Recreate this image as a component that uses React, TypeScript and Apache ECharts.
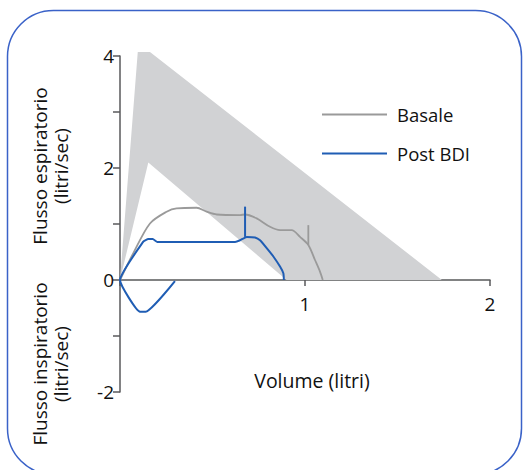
import React, { useEffect, useRef } from "react";
import * as echarts from "echarts";

const FONT = "'Open Sans', 'Noto Sans', sans-serif";

const xTicks = [0, 1, 2];
const yTickLabels = ["-2", "0", "2", "4"];

// Normal range (gray band), [volume, flow]
const normalBand: [number, number][] = [
  [0, 0],
  [0.096, 4.07],
  [0.162, 4.07],
  [1.74, 0],
  [0.9, 0],
  [0.153, 2.1],
  [0, 0],
];

const basale: [number, number][] = [
  [0, 0],
  [0.072, 0.48],
  [0.162, 1.01],
  [0.252, 1.22],
  [0.306, 1.28],
  [0.414, 1.29],
  [0.468, 1.22],
  [0.523, 1.17],
  [0.649, 1.16],
  [0.676, 1.17],
  [0.739, 1.1],
  [0.811, 0.95],
  [0.865, 0.89],
  [0.928, 0.89],
  [0.973, 0.77],
  [1.018, 0.625],
  [1.054, 0.357],
  [1.081, 0.15],
  [1.096, 0],
];
const basaleMark: [number, number][] = [
  [1.018, 0.98],
  [1.018, 0.625],
];

const postBdi: [number, number][] = [
  [0.297, -0.02],
  [0.139, -0.565],
  [0.108, -0.565],
  [0, 0],
  [0.126, 0.685],
  [0.153, 0.73],
  [0.177, 0.73],
  [0.202, 0.68],
  [0.622, 0.68],
  [0.649, 0.71],
  [0.685, 0.77],
  [0.73, 0.76],
  [0.757, 0.71],
  [0.793, 0.57],
  [0.829, 0.42],
  [0.865, 0.24],
  [0.883, 0.12],
  [0.886, 0],
];
const postBdiMark: [number, number][] = [
  [0.676, 1.31],
  [0.676, 0.77],
];

const GRAY = "#9a9a9a";
const BLUE = "#1f5db4";
const AXIS = "#58595b";

export default function App() {
  const ref = useRef<HTMLDivElement>(null);
  useEffect(() => {
    document.body.style.margin = "0";
    const chart = echarts.init(ref.current!, undefined, { renderer: "svg" });
    chart.setOption({
      animation: false,
      backgroundColor: "#ffffff",
      textStyle: { fontFamily: FONT },
      grid: { left: 120, right: 38, top: 56, bottom: 78 },
      legend: {
        data: ["Basale", "Post BDI"],
        orient: "vertical",
        left: 317,
        top: 100,
        itemWidth: 65,
        itemHeight: 2,
        itemGap: 20,
        icon: "rect",
        selectedMode: false,
        textStyle: { fontSize: 18.5, color: "#111", fontFamily: FONT, padding: [0, 0, 0, 5] },
      },
      xAxis: {
        type: "value",
        min: 0,
        max: 2,
        interval: 1,
        axisLine: { onZero: true, lineStyle: { color: AXIS, width: 1.5 } },
        axisTick: { show: true, length: 6, lineStyle: { color: AXIS, width: 1.5 } },
        axisLabel: {
          fontSize: 19,
          color: "#111",
          margin: -98,
          fontFamily: FONT,
          formatter: (v: number) => (v === xTicks[0] ? "" : String(v)),
        },
        splitLine: { show: false },
      },
      yAxis: {
        type: "value",
        min: -2,
        max: 4,
        interval: 1,
        axisLine: { onZero: false, lineStyle: { color: AXIS, width: 1.5 } },
        axisTick: { show: true, length: 7, lineStyle: { color: AXIS, width: 1.5 } },
        axisLabel: {
          fontSize: 19,
          color: "#111",
          margin: 6,
          fontFamily: FONT,
          formatter: (v: number) => (yTickLabels.includes(String(v)) ? String(v) : ""),
        },
        splitLine: { show: false },
      },
      graphic: [
        {
          type: "rect",
          shape: { x: 7.5, y: 10.5, width: 514, height: 464, r: 46 },
          style: { fill: "none", stroke: "#3a62c8", lineWidth: 1.5 },
          z: 100,
        },
        {
          type: "text",
          x: 50,
          y: 166,
          rotation: Math.PI / 2,
          style: {
            text: "Flusso espiratorio\n(litri/sec)",
            fontSize: 19,
            fontFamily: FONT,
            fill: "#111",
            align: "center",
            verticalAlign: "middle",
            lineHeight: 21,
          },
        },
        {
          type: "text",
          x: 50,
          y: 364,
          rotation: Math.PI / 2,
          style: {
            text: "Flusso inspiratorio\n(litri/sec)",
            fontSize: 19,
            fontFamily: FONT,
            fill: "#111",
            align: "center",
            verticalAlign: "middle",
            lineHeight: 21,
          },
        },
        {
          type: "text",
          x: 312,
          y: 380,
          style: {
            text: "Volume (litri)",
            fontSize: 19.5,
            fontFamily: FONT,
            fill: "#111",
            align: "center",
            verticalAlign: "middle",
          },
        },
      ],
      series: [
        {
          type: "custom",
          name: "Normale",
          clip: false,
          silent: true,
          z: 1,
          data: [0],
          renderItem: (_params: any, api: any) => ({
            type: "polygon",
            shape: { points: normalBand.map((p) => api.coord(p)) },
            style: { fill: "#d1d2d4", stroke: "none" },
          }),
        },
        {
          type: "line",
          name: "Basale",
          data: basale,
          symbol: "none",
          smooth: 0.3,
          clip: false,
          z: 3,
          lineStyle: { color: GRAY, width: 1.8 },
          itemStyle: { color: GRAY },
        },
        {
          type: "line",
          name: "BasaleMark",
          data: basaleMark,
          symbol: "none",
          z: 3,
          lineStyle: { color: GRAY, width: 1.8 },
        },
        {
          type: "line",
          name: "Post BDI",
          data: postBdi,
          symbol: "none",
          smooth: 0.15,
          clip: false,
          z: 4,
          lineStyle: { color: BLUE, width: 2 },
          itemStyle: { color: BLUE },
        },
        {
          type: "line",
          name: "PostMark",
          data: postBdiMark,
          symbol: "none",
          z: 4,
          lineStyle: { color: BLUE, width: 2 },
        },
      ],
    });
    return () => chart.dispose();
  }, []);
  return (
    <div
      ref={ref}
      style={{ position: "absolute", left: 0, top: 0, width: 528, height: 470 }}
    />
  );
}
